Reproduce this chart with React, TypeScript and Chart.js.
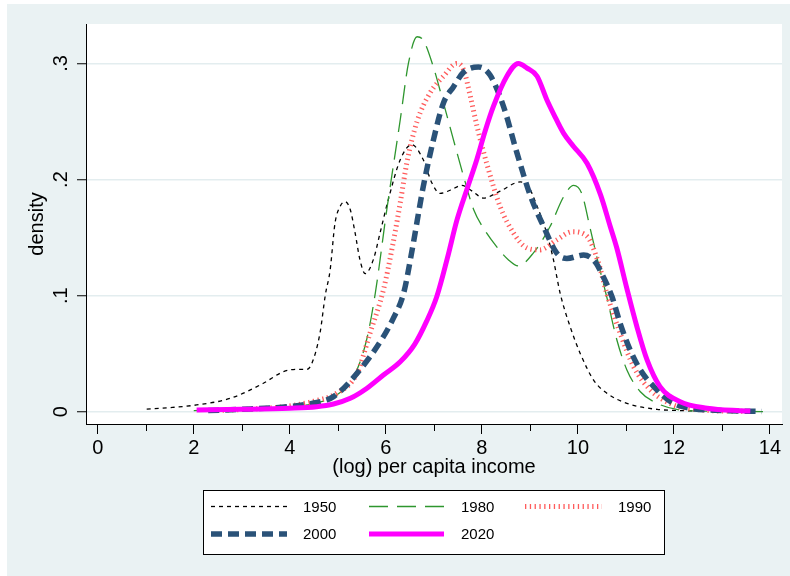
import { useEffect, useRef } from "react";
import { Chart, registerables } from "chart.js";

Chart.register(...registerables);

const FONT = '"Liberation Sans", Arial, Helvetica, sans-serif';

const labels = ["1950", "1980", "1990", "2000", "2020"];

const x1950 = [1.02, 1.5, 2.06, 2.76, 3.45, 3.87, 4.15, 4.35, 4.46, 4.63, 4.74, 4.84, 4.94, 5.05, 5.15, 5.26, 5.36, 5.46, 5.57, 5.74, 5.88, 6.05, 6.3, 6.54, 6.78, 6.96, 7.13, 7.35, 7.58, 7.8, 8.03, 8.38, 8.8, 8.97, 9.15, 9.35, 9.49, 9.63, 9.84, 10.05, 10.33, 10.6, 11.02, 11.65, 12.13, 12.6];
const y1950 = [0.0023, 0.0035, 0.0058, 0.0115, 0.0245, 0.0345, 0.0365, 0.0365, 0.0417, 0.068, 0.1006, 0.122, 0.162, 0.177, 0.181, 0.174, 0.154, 0.131, 0.119, 0.131, 0.154, 0.1825, 0.217, 0.23, 0.217, 0.197, 0.188, 0.191, 0.195, 0.19, 0.184, 0.19, 0.198, 0.194, 0.177, 0.154, 0.131, 0.102, 0.073, 0.05, 0.027, 0.016, 0.0072, 0.002, 0.001, 0.0004];

const x1980 = [2.0, 3.0, 4.0, 4.5, 4.98, 5.33, 5.6, 5.78, 6.02, 6.3, 6.47, 6.65, 6.78, 6.99, 7.2, 7.41, 7.62, 7.83, 8.05, 8.31, 8.55, 8.76, 9.07, 9.42, 9.7, 9.91, 10.08, 10.26, 10.43, 10.6, 10.81, 11.02, 11.3, 11.65, 12.13, 12.8, 13.86];
const y1980 = [0.001, 0.002, 0.004, 0.007, 0.0144, 0.03, 0.062, 0.102, 0.174, 0.2515, 0.3, 0.323, 0.32, 0.297, 0.266, 0.234, 0.2026, 0.174, 0.157, 0.142, 0.131, 0.1256, 0.1366, 0.1595, 0.185, 0.195, 0.188, 0.157, 0.127, 0.099, 0.062, 0.036, 0.0172, 0.0072, 0.0015, 0.0004, 0.0001];

const x1990 = [2.5, 3.5, 4.0, 4.5, 4.98, 5.4, 5.67, 5.95, 6.15, 6.3, 6.44, 6.65, 6.92, 7.2, 7.48, 7.62, 7.76, 7.9, 8.1, 8.38, 8.66, 8.94, 9.21, 9.56, 9.88, 10.19, 10.43, 10.6, 10.88, 11.16, 11.51, 11.99, 12.6, 13.5];
const y1990 = [0.001, 0.003, 0.005, 0.009, 0.016, 0.033, 0.0676, 0.105, 0.145, 0.18, 0.215, 0.25, 0.2745, 0.289, 0.3, 0.2945, 0.2716, 0.2457, 0.214, 0.1767, 0.1538, 0.141, 0.1394, 0.148, 0.155, 0.151, 0.128, 0.102, 0.0676, 0.0388, 0.0187, 0.0058, 0.0015, 0.0002];

const x2000 = [2.3, 3.0, 4.0, 4.5, 4.91, 5.46, 5.95, 6.15, 6.37, 6.55, 6.78, 6.99, 7.2, 7.41, 7.62, 7.93, 8.17, 8.45, 8.73, 9.01, 9.28, 9.56, 9.77, 10.12, 10.36, 10.53, 10.71, 10.88, 11.09, 11.3, 11.58, 11.99, 12.35, 13.0, 13.83];
const y2000 = [0.001, 0.002, 0.0045, 0.0075, 0.013, 0.036, 0.0647, 0.08, 0.102, 0.14, 0.194, 0.234, 0.266, 0.28, 0.2925, 0.297, 0.29, 0.263, 0.223, 0.186, 0.16, 0.1366, 0.132, 0.135, 0.129, 0.116, 0.099, 0.076, 0.053, 0.036, 0.0216, 0.0072, 0.003, 0.001, 0.0002];

const x2020 = [2.06, 3.0, 4.0, 4.56, 4.91, 5.26, 5.6, 5.95, 6.3, 6.6, 6.85, 7.06, 7.28, 7.48, 7.7, 7.9, 8.07, 8.24, 8.52, 8.76, 8.94, 9.15, 9.35, 9.5, 9.7, 9.91, 10.19, 10.47, 10.67, 10.81, 11.02, 11.23, 11.44, 11.71, 12.13, 12.69, 13.38, 13.59];
const y2020 = [0.0015, 0.002, 0.003, 0.0043, 0.0066, 0.0115, 0.02, 0.0316, 0.043, 0.058, 0.078, 0.099, 0.132, 0.165, 0.193, 0.218, 0.242, 0.263, 0.289, 0.3, 0.296, 0.289, 0.269, 0.256, 0.24, 0.2285, 0.214, 0.187, 0.16, 0.141, 0.106, 0.073, 0.0446, 0.0216, 0.0086, 0.003, 0.0009, 0.0006];

const xTicks = [0, 2, 4, 6, 8, 10, 12, 14];
const xMinorTicks = [1, 3, 5, 7, 9, 11, 13];
const yTicks = [0, 0.1, 0.2, 0.3];
const yTickLabels = ["0", ".1", ".2", ".3"];

const styles = [
  { color: "#000000", width: 1.3, dash: [4, 4] },
  { color: "#2e962e", width: 1.3, dash: [19, 9] },
  { color: "#ff5c5c", width: 5, dash: [1.3, 3.5] },
  { color: "#2a5278", width: 5.5, dash: [11, 6] },
  { color: "#ff00ff", width: 5, dash: [] as number[] },
];

export default function App() {
  const ref = useRef<HTMLCanvasElement>(null);

  useEffect(() => {
    const canvas = ref.current;
    if (!canvas) return;
    const xs = [x1950, x1980, x1990, x2000, x2020];
    const ys = [y1950, y1980, y1990, y2000, y2020];

    const bgPlugin = {
      id: "bg",
      beforeDraw(chart: any) {
        const { ctx, chartArea: a } = chart;
        ctx.save();
        ctx.fillStyle = "#ffffff";
        ctx.fillRect(0, 0, chart.width, chart.height);
        ctx.fillStyle = "#EAF2F3";
        ctx.fillRect(7, 4, chart.width - 7, chart.height - 4);
        ctx.fillStyle = "#ffffff";
        ctx.fillRect(a.left, a.top, a.right - a.left, a.bottom - a.top);
        ctx.restore();
      },
      afterDraw(chart: any) {
        const { ctx, chartArea: a } = chart;
        const xs = chart.scales.x;
        const yS = chart.scales.y;
        ctx.save();
        // minor x ticks
        ctx.strokeStyle = "#000";
        ctx.lineWidth = 1;
        for (const v of xMinorTicks) {
          const px = Math.round(xs.getPixelForValue(v)) + 0.5;
          ctx.beginPath();
          ctx.moveTo(px, a.bottom);
          ctx.lineTo(px, a.bottom + 7);
          ctx.stroke();
        }
        // y tick labels (rotated)
        ctx.fillStyle = "#000";
        ctx.font = `20px ${FONT}`;
        ctx.textAlign = "center";
        ctx.textBaseline = "alphabetic";
        yTicks.forEach((v, i) => {
          const py = yS.getPixelForValue(v);
          ctx.save();
          ctx.translate(66.5, py);
          ctx.rotate(-Math.PI / 2);
          ctx.fillText(yTickLabels[i], 0, 0);
          ctx.restore();
        });
        // legend
        const bx = 203.5, by = 490.5, bw = 461, bh = 64;
        ctx.fillStyle = "#fff";
        ctx.fillRect(bx, by, bw, bh);
        ctx.strokeStyle = "#000";
        ctx.lineWidth = 1;
        ctx.strokeRect(bx, by, bw, bh);
        const cols = [
          { l0: 211, l1: 287, tx: 303 },
          { l0: 369, l1: 444, tx: 461 },
          { l0: 525, l1: 602, tx: 618 },
        ];
        const rows = [506.5, 534];
        ctx.font = `15px ${FONT}`;
        ctx.textAlign = "left";
        ctx.textBaseline = "middle";
        labels.forEach((lab, i) => {
          const c = cols[i % 3];
          const r = rows[Math.floor(i / 3)];
          const st = styles[i];
          ctx.save();
          ctx.strokeStyle = st.color;
          ctx.lineWidth = st.width;
          ctx.setLineDash(st.dash);
          ctx.lineCap = "butt";
          ctx.beginPath();
          ctx.moveTo(c.l0, r);
          ctx.lineTo(c.l1, r);
          ctx.stroke();
          ctx.restore();
          ctx.fillStyle = "#000";
          ctx.fillText(lab, c.tx, r + 1);
        });
        ctx.restore();
      },
    };

    const chart = new Chart(canvas, {
      type: "line",
      data: {
        datasets: labels.map((lab, i) => ({
          label: lab,
          data: xs[i].map((x, j) => ({ x, y: ys[i][j] })),
          borderColor: styles[i].color,
          borderWidth: styles[i].width,
          borderDash: styles[i].dash,
          borderCapStyle: "butt",
          pointRadius: 0,
          fill: false,
          cubicInterpolationMode: "monotone",
          order: labels.length - i,
        })),
      },
      options: {
        animation: false,
        responsive: false,
        layout: { padding: { left: 0, right: 8, top: 24, bottom: 92 } },
        plugins: {
          legend: { display: false },
          tooltip: { enabled: false },
        },
        scales: {
          x: {
            type: "linear",
            min: -0.244,
            max: 14.25,
            afterFit(scale: any) {
              scale.height = 60;
            },
            afterBuildTicks(scale: any) {
              scale.ticks = xTicks.map((v) => ({ value: v }));
            },
            ticks: {
              includeBounds: false,
              color: "#000",
              font: { family: FONT, size: 20 },
              padding: 2,
              maxRotation: 0,
              callback: (v: any) => String(v),
            },
            grid: {
              drawOnChartArea: false,
              drawTicks: true,
              tickLength: 10,
              tickColor: "#000",
              tickWidth: 1,
            },
            border: { display: true, color: "#000", width: 1 },
            title: {
              display: true,
              text: "(log) per capita income",
              color: "#000",
              font: { family: FONT, size: 20 },
              padding: { top: 0, bottom: 5 },
            },
          },
          y: {
            type: "linear",
            min: -0.0106,
            max: 0.334,
            afterFit(scale: any) {
              scale.width = 86;
            },
            afterBuildTicks(scale: any) {
              scale.ticks = yTicks.map((v) => ({ value: v }));
            },
            ticks: { display: false, includeBounds: false },
            grid: {
              color: "#E3EDEF",
              lineWidth: 1.5,
              drawTicks: true,
              tickLength: 9,
              tickColor: "#000",
              tickWidth: 1,
            },
            border: { display: true, color: "#000", width: 1 },
            title: {
              display: true,
              text: "density",
              color: "#000",
              font: { family: FONT, size: 20 },
              padding: { top: 25, bottom: 0 },
            },
          },
        },
      },
      plugins: [bgPlugin],
    } as any);

    return () => chart.destroy();
  }, []);

  return (
    <div style={{ position: "absolute", left: 0, top: 0, width: 790, height: 576 }}>
      <canvas ref={ref} width={790} height={576} style={{ display: "block" }} />
    </div>
  );
}
